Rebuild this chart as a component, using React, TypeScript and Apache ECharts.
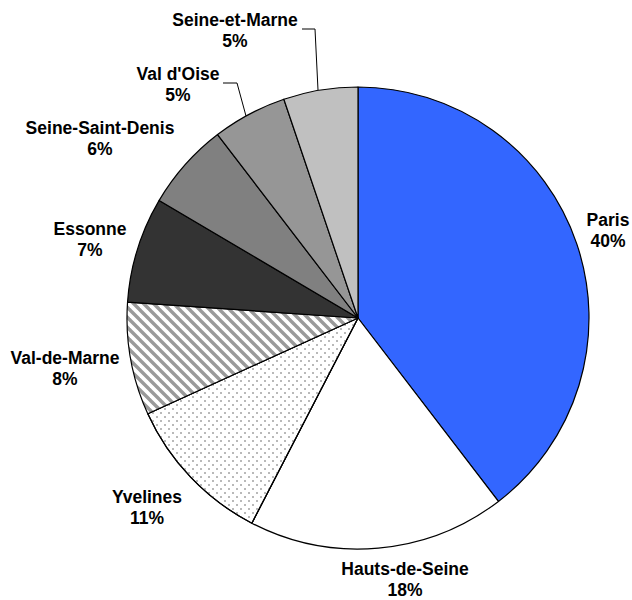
import React, { useEffect, useRef } from "react";
import * as echarts from "echarts";

const REGIONS = [
  "Paris",
  "Hauts-de-Seine",
  "Yvelines",
  "Val-de-Marne",
  "Essonne",
  "Seine-Saint-Denis",
  "Val d'Oise",
  "Seine-et-Marne",
];
const SHARES = [39.6, 18.0, 10.6, 7.9, 7.4, 6.1, 5.2, 5.2];

const FILLS = ["#3366FF", "#FFFFFF", "#FFFFFF", "#FFFFFF", "#333333", "#808080", "#969696", "#C0C0C0"];
const LABEL_POS: [number, number][] = [
  [608, 230],
  [405, 579],
  [147, 507],
  [65, 368],
  [90, 239],
  [100, 138],
  [178, 84],
  [235, 30],
];
const LEADERS: ([number, number][] | null)[] = [
  null, null, null, null, null, null,
  [[246, 116], [237, 83], [223, 83]],
  [[318, 90], [315, 29], [302, 29]],
];

const dotsDecal = {
  symbol: "rect",
  symbolSize: 0.8,
  color: "#8a8a8a",
  dashArrayX: [[2, 6], [0, 4, 2, 2]],
  dashArrayY: [2, 2],
  rotation: 0,
};

function makeStripeTile(): HTMLCanvasElement {
  const s = 10;
  const c = document.createElement("canvas");
  c.width = s;
  c.height = s;
  const ctx = c.getContext("2d")!;
  ctx.fillStyle = "#ffffff";
  ctx.fillRect(0, 0, s, s);
  ctx.strokeStyle = "#9a9a9a";
  ctx.lineWidth = 3.4;
  for (const k of [-s, 0, s]) {
    ctx.beginPath();
    ctx.moveTo(-s, -s + k);
    ctx.lineTo(2 * s, 2 * s + k);
    ctx.stroke();
  }
  return c;
}

export default function App() {
  const ref = useRef<HTMLDivElement>(null);
  useEffect(() => {
    if (!ref.current) return;
    const chart = echarts.init(ref.current, undefined, { renderer: "svg" });
    const tile = makeStripeTile();
    const data = REGIONS.map((name, i) => {
      const item: any = {
        name,
        value: SHARES[i],
        itemStyle: { color: FILLS[i] },
        labelLine: { show: !!LEADERS[i] },
      };
      if (i === 2) item.itemStyle.decal = dotsDecal;
      if (i === 3)
        item.itemStyle.color = {
          image: tile,
          repeat: "repeat",
          imageWidth: tile.width,
          imageHeight: tile.height,
        };
      return item;
    });
    chart.setOption({
      animation: false,
      backgroundColor: "#ffffff",
      series: [
        {
          type: "pie",
          center: [358, 318],
          radius: 231,
          startAngle: 90,
          clockwise: true,
          avoidLabelOverlap: false,
          percentPrecision: 0,
          itemStyle: { borderColor: "#000", borderWidth: 1.2 },
          emphasis: { disabled: true },
          label: {
            show: true,
            position: "outside",
            formatter: "{b}\n{d}%",
            fontFamily: "Arial, 'Liberation Sans', sans-serif",
            fontWeight: "bold",
            fontSize: 17.5,
            lineHeight: 21,
            color: "#000",
            align: "center",
          },
          labelLine: {
            show: true,
            length: 10,
            length2: 10,
            lineStyle: { color: "#000", width: 1 },
          },
          labelLayout: (params: any) => {
            const i = params.dataIndex;
            const res: any = {
              x: LABEL_POS[i][0],
              y: LABEL_POS[i][1],
              align: "center",
              verticalAlign: "middle",
            };
            if (LEADERS[i]) res.labelLinePoints = LEADERS[i];
            return res;
          },
          data,
        },
      ],
    });
    return () => chart.dispose();
  }, []);
  return (
    <div
      ref={ref}
      style={{ position: "fixed", left: 0, top: 0, width: 632, height: 600 }}
    />
  );
}
